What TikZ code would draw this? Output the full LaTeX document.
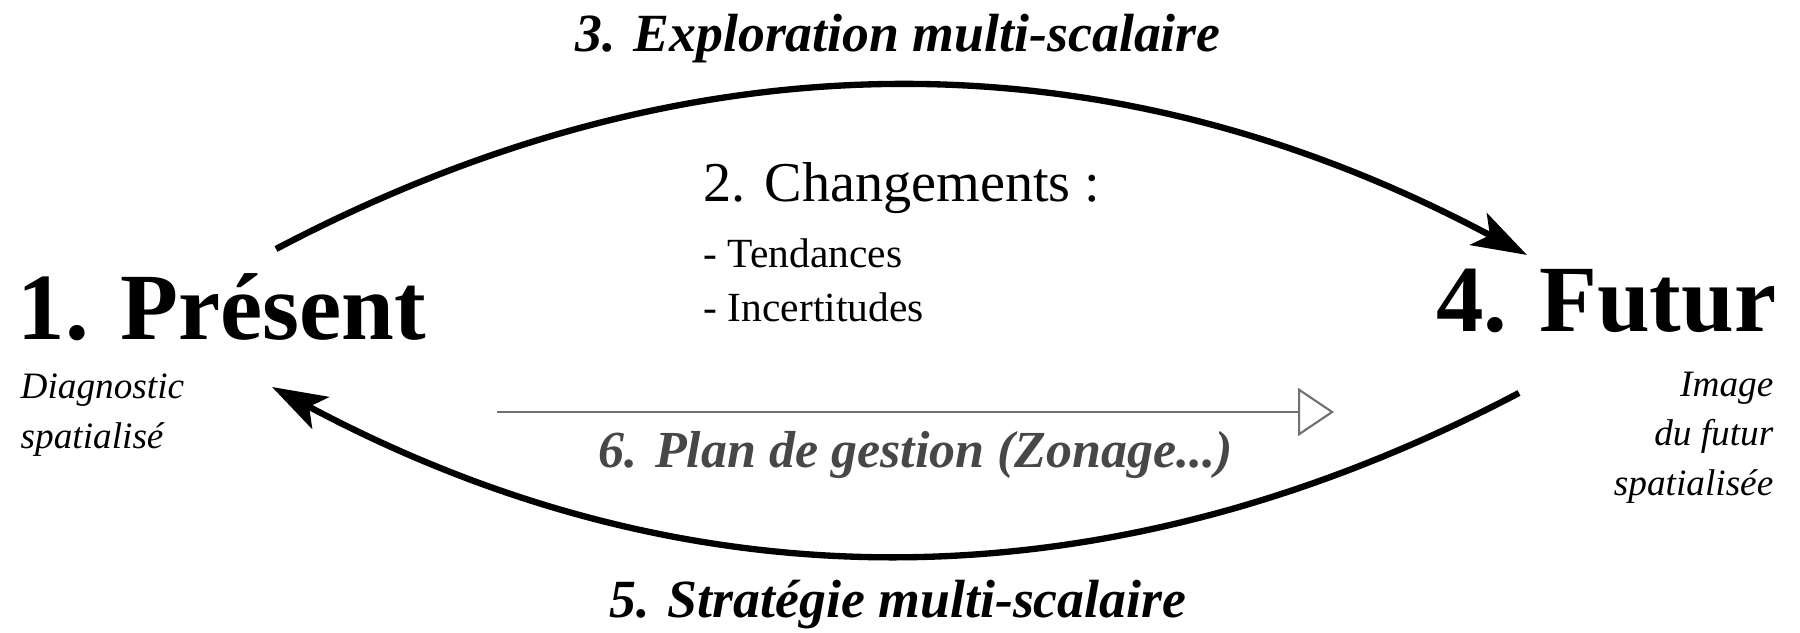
\documentclass[tikz,border=0pt]{standalone}
\usepackage{fontspec}
\setmainfont{Liberation Serif}
\usetikzlibrary{
    arrows.meta,
    positioning,
}
\colorlet{PlanText}{black!72}
\colorlet{PlanLine}{black!56}
\tikzstyle{stage}=[inner sep=0pt,font=\fontsize{27}{31}\selectfont\bfseries]
\tikzstyle{stagenote}=[inner sep=0pt,font=\fontsize{10.6}{14.2}\selectfont\itshape]
\tikzstyle{phase}=[inner sep=0pt,font=\fontsize{15.3}{18}\selectfont\bfseries\itshape]
\tikzstyle{cycle}=[line width=1.8pt,-{Stealth[length=5.5mm,width=3.6mm,inset=1.3mm]}]
\tikzset{
    >=latex
}

\begin{document}
\begin{tikzpicture}
    \useasboundingbox (0,0) rectangle (18,6.33);

    % Present and future
    \node[stage,anchor=base west] (present) at (0.17,2.93) {1. Présent};
    \node[stagenote,anchor=north west,align=left,below right=0.33 and 0.03 of present.base west] (diag)
        {Diagnostic\\spatialisé};
    \node[stage,anchor=base east] (futur) at (17.77,3.01) {4. Futur};
    \node[stagenote,anchor=north east,align=right,below left=0.39 and 0.03 of futur.base east] (image)
        {Image\\du futur\\spatialisée};

    % Changes
    \node[inner sep=0pt,anchor=base west,font=\fontsize{16}{19}\selectfont] (changes) at (7.03,4.31)
        {2. Changements :};
    \node[inner sep=0pt,anchor=base west,font=\fontsize{11.8}{15.2}\selectfont] (trend) at (7.03,3.65)
        {- Tendances};
    \node[inner sep=0pt,anchor=base west,font=\fontsize{11.8}{15.2}\selectfont] (uncert) at (7.03,3.11)
        {- Incertitudes};

    % Cycle
    \coordinate (present out) at (2.76,3.84);
    \coordinate (futur in) at (15.27,3.78);
    \coordinate (futur out) at (15.19,2.40);
    \coordinate (present in) at (2.72,2.46);
    \draw[cycle] (present out) .. controls (6.92,6.03) and (11.09,6.01) .. (futur in);
    \draw[cycle] (futur out) .. controls (11.04,0.22) and (6.88,0.24) .. (present in);
    \node[phase,anchor=base] (explore) at (8.98,5.81) {3. Exploration multi-scalaire};
    \node[phase,anchor=base] (strategy) at (8.98,0.15) {5. Stratégie multi-scalaire};

    % Management plan
    \coordinate (plan start) at (4.97,2.21);
    \coordinate (plan end) at (13.34,2.21);
    \draw[PlanLine,line width=0.6pt,-{Triangle[open,length=3.6mm,width=4.8mm]}] (plan start) -- (plan end);
    \node[phase,text=PlanText,font=\fontsize{14.8}{17}\selectfont\bfseries\itshape,anchor=base] (plan) at (9.16,1.65)
        {6. Plan de gestion (Zonage...)};
\end{tikzpicture}
\end{document}
